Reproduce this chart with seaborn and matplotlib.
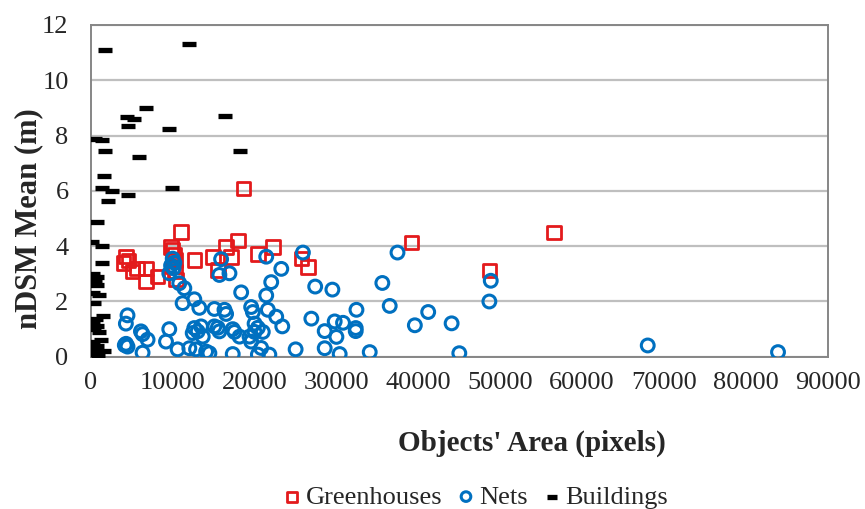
import pandas as pd
import matplotlib
matplotlib.use('Agg')
import matplotlib.pyplot as plt
import seaborn as sns

# Greenhouses (red squares)
gh_area = [18640, 11010, 9800, 10000, 10200, 10300, 10000, 10300, 10400,
           4300, 4000, 4600, 5670, 5100, 6730, 6730, 8150,
           12640, 14890, 16520, 17130, 17950, 15500, 20400, 22230, 25700, 26510,
           39170, 48670, 56590]
gh_mean = [6.09, 4.52, 3.98, 3.86, 3.68, 3.50, 3.26, 3.08, 2.80,
           3.62, 3.40, 3.48, 3.20, 3.08, 3.19, 2.72, 2.90,
           3.50, 3.60, 3.98, 3.60, 4.20, 3.14, 3.72, 3.98, 3.56, 3.24,
           4.14, 3.12, 4.50]

# Nets (blue circles)
net_area = [4480, 4280, 4300, 4480, 4150, 6120, 6320, 6930, 6320,
            9580, 9180, 10600, 12030, 12850, 14080, 14480,
            9800, 10000, 10200, 10100, 9580, 10800, 11420,
            11210, 12640, 13250, 12440, 12640, 13050, 13460, 13670,
            15090, 16320, 16520, 15090, 15700, 15500,
            17330, 17540, 18160, 17330, 18360, 19580, 19790,
            19380, 20000, 20000, 21000, 20400, 19580, 20800, 20400, 21800,
            15910, 15700, 16930, 21420, 23260, 22030, 21420, 21620, 22640, 23380,
            25010, 25900, 27400, 29500, 26930, 28560, 29780, 30800, 29990, 28560, 30390,
            32440, 32350, 32350, 34060, 35600, 37450, 36500, 39570, 41200, 44060,
            45000, 48840, 48670, 68010, 83920]
net_mean = [1.50, 1.20, 0.47, 0.37, 0.42, 0.92, 0.82, 0.62, 0.15,
            1.00, 0.55, 0.27, 0.31, 0.27, 0.19, 0.13,
            3.30, 3.55, 3.40, 3.20, 3.02, 2.66, 2.48,
            1.94, 2.08, 1.77, 0.86, 1.04, 0.92, 1.10, 0.73,
            1.73, 1.70, 1.55, 1.10, 0.92, 1.05,
            1.00, 0.90, 0.73, 0.10, 2.33, 1.80, 1.62,
            0.73, 0.90, 1.20, 0.90, 1.05, 0.55, 0.32, 0.08, 0.08,
            3.53, 2.96, 3.02, 3.62, 3.18, 2.70, 2.22, 1.70, 1.45, 1.10,
            0.27, 3.77, 2.54, 2.43, 1.38, 0.93, 1.28, 1.23, 0.72, 0.31, 0.10,
            1.70, 1.04, 0.93, 0.17, 2.67, 3.77, 1.84, 1.14, 1.62, 1.21,
            0.13, 2.75, 2.00, 0.41, 0.17]

# Buildings (black dashes)
bld_area = [1750, 12030, 4400, 5300, 6730, 4480, 9500, 16440, 1340, 530,
            1750, 18240, 5830, 1630, 1420, 2600, 9900, 4600, 2120, 810,
            200, 1420, 1420, 300, 800, 500, 700, 300, 1000, 400,
            1500, 600, 300, 800, 400, 1000, 1200, 300, 700, 400,
            1600, 500, 900]
bld_mean = [11.08, 11.32, 8.68, 8.59, 8.98, 8.34, 8.24, 8.71, 7.83, 7.87,
            7.44, 7.44, 7.23, 6.55, 6.09, 6.00, 6.09, 5.84, 5.62, 4.89,
            4.16, 3.99, 3.38, 2.98, 2.90, 2.70, 2.60, 2.30, 2.25, 1.95,
            1.46, 1.38, 1.20, 1.10, 1.00, 0.90, 0.62, 0.55, 0.40, 0.30,
            0.20, 0.10, 0.07]

x_ticks = [0, 10000, 20000, 30000, 40000, 50000, 60000, 70000, 80000, 90000]
y_ticks = [0, 2, 4, 6, 8, 10, 12]

sns.set_style('white')
plt.rcParams['font.family'] = ['Liberation Serif', 'DejaVu Serif']

fig = plt.figure(figsize=(8.65, 5.09), dpi=100)
ax = fig.add_axes([0.105, 0.299, 0.852, 0.652])

sns.scatterplot(x=gh_area, y=gh_mean, ax=ax, marker='s', s=95,
                facecolor='none', edgecolor='#E31A1C', linewidth=2.0,
                label='Greenhouses', zorder=3)
sns.scatterplot(x=net_area, y=net_mean, ax=ax, marker='o', s=85,
                facecolor='none', edgecolor='#0070C0', linewidth=2.2,
                label='Nets', zorder=3)
sns.scatterplot(x=bld_area, y=bld_mean, ax=ax, marker='_', s=95,
                color='black', linewidth=3.8, label='Buildings', zorder=3)

ax.set_xlim(0, 90000)
ax.set_ylim(0, 12)
ax.set_xticks(x_ticks)
ax.set_yticks(y_ticks)
ax.set_xticklabels([str(v) for v in x_ticks])
ax.set_yticklabels([str(v) for v in y_ticks])
ax.yaxis.grid(True, color='#BFBFBF', linewidth=1.6)
ax.xaxis.grid(False)
ax.set_axisbelow(True)
for side in ['left', 'right', 'top', 'bottom']:
    ax.spines[side].set_visible(True)
    ax.spines[side].set_color('#868686')
    ax.spines[side].set_linewidth(1.4)
ax.tick_params(axis='both', direction='out', length=5, width=1.4,
               color='#868686', labelsize=19)
ax.tick_params(axis='x', pad=6)
ax.tick_params(axis='y', pad=11)

ax.set_xlabel("Objects' Area (pixels)", fontsize=21, fontweight='bold')
ax.set_ylabel('nDSM Mean (m)', fontsize=22, fontweight='bold')
ax.xaxis.set_label_coords(0.598, -0.22)
ax.yaxis.set_label_coords(-0.065, 0.415)

ax.get_legend().remove()
h, l = ax.get_legend_handles_labels()
fig.legend(h, l, loc='center', bbox_to_anchor=(0.548, 0.024), ncol=3,
           frameon=False, fontsize=19, handletextpad=0.05, columnspacing=0.45,
           markerscale=0.75, handlelength=0.9)

fig.savefig('out.png', dpi=100)
